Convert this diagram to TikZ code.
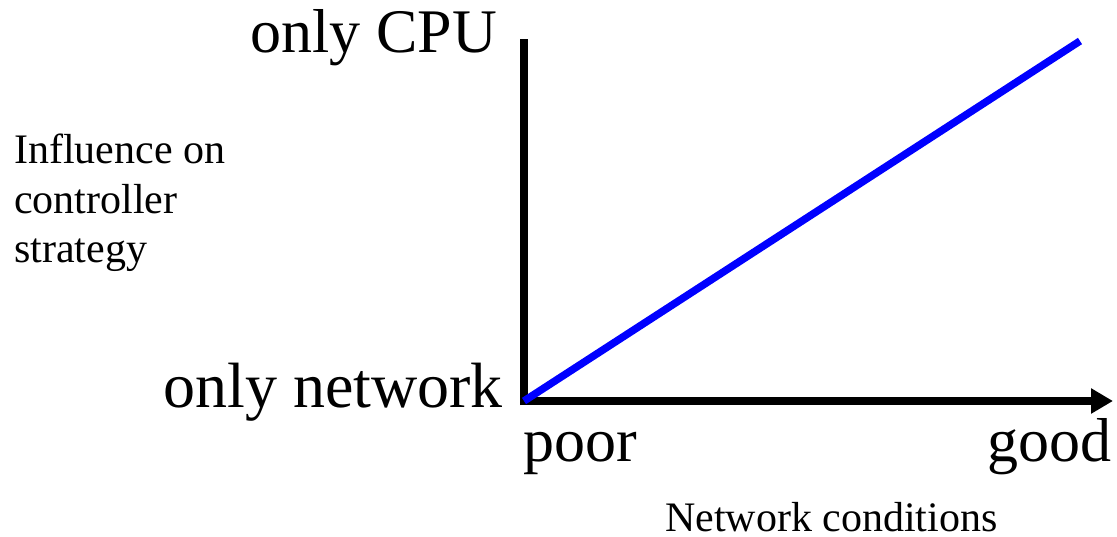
\documentclass[tikz,border=0pt]{standalone}
\usepackage{fontspec}
\setmainfont{Liberation Serif}
\usetikzlibrary{arrows.meta}
\begin{document}
\begin{tikzpicture}[x=1pt,y=-1pt,
  big/.style={font=\fontsize{62}{70}\selectfont,inner sep=0pt},
  small/.style={font=\fontsize{42}{49.5}\selectfont,inner sep=0pt},
  axis/.style={line width=7.7pt,black},
  curve/.style={line width=7.5pt,blue,line cap=butt}]
\useasboundingbox (0,0) rectangle (1117,536);
\coordinate (O) at (524,401);
\coordinate (ytop) at (524,38.5);
\coordinate (ybot) at (524,405);
\coordinate (xstart) at (520,401);
\coordinate (xend) at (1113,401);
\coordinate (lineend) at (1080,41);
\draw[axis] (ybot) -- (ytop);
\draw[axis,-{Triangle[length=22pt,width=24pt]}] (xstart) -- (xend);
\draw[curve] (O) -- (lineend);
\node[big,anchor=base east] (cpu) at (497,52) {only CPU};
\node[big,anchor=base east,font=\fontsize{64}{72}\selectfont] (net) at (503,407) {only network};
\node[big,anchor=base west] (poor) at (523,461) {poor};
\node[big,anchor=base east] (good) at (1112,461) {good};
\node[small,anchor=base west] (xlabel) at (665,531) {Network conditions};
\node[small,anchor=north west,align=left] (ylabel) at (14,134) {Influence on\\controller\\strategy};
\end{tikzpicture}
\end{document}
